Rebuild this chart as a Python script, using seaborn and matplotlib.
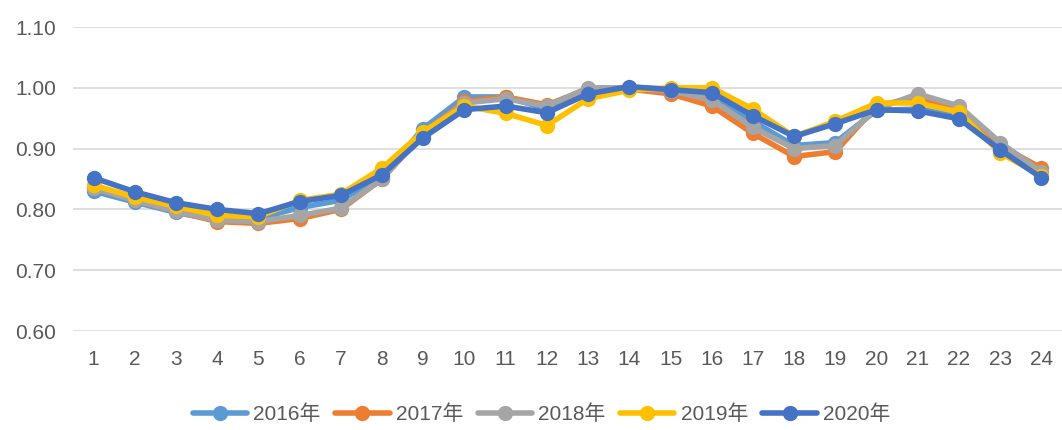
import pandas as pd
import matplotlib
matplotlib.use("Agg")
import matplotlib.pyplot as plt
import seaborn as sns

# hours of the day
hours = list(range(1, 25))

# load ratio per hour
y2016 = [0.830, 0.812, 0.795, 0.782, 0.785, 0.803, 0.815, 0.855, 0.933, 0.985, 0.985, 0.965,
         0.995, 1.000, 0.998, 0.985, 0.945, 0.905, 0.910, 0.963, 0.965, 0.955, 0.898, 0.858]
y2017 = [0.835, 0.815, 0.797, 0.780, 0.777, 0.785, 0.800, 0.850, 0.925, 0.978, 0.985, 0.972,
         0.998, 0.998, 0.990, 0.970, 0.925, 0.887, 0.895, 0.970, 0.985, 0.965, 0.905, 0.868]
y2018 = [0.835, 0.815, 0.797, 0.782, 0.780, 0.790, 0.802, 0.850, 0.925, 0.975, 0.982, 0.970,
         1.000, 1.000, 0.995, 0.980, 0.935, 0.900, 0.905, 0.965, 0.990, 0.970, 0.910, 0.862]
y2019 = [0.840, 0.820, 0.805, 0.790, 0.788, 0.815, 0.825, 0.868, 0.928, 0.970, 0.958, 0.938,
         0.982, 0.996, 1.000, 1.000, 0.965, 0.920, 0.945, 0.975, 0.975, 0.960, 0.893, 0.855]
y2020 = [0.852, 0.829, 0.811, 0.800, 0.793, 0.813, 0.823, 0.857, 0.918, 0.964, 0.970, 0.959,
         0.990, 1.002, 0.997, 0.992, 0.954, 0.920, 0.941, 0.964, 0.962, 0.949, 0.898, 0.852]

years = ["2016年", "2017年", "2018年", "2019年", "2020年"]
colors = ["#5B9BD5", "#ED7D31", "#A5A5A5", "#FFC000", "#4472C4"]
yticks = [0.60, 0.70, 0.80, 0.90, 1.00, 1.10]

# build a long table for seaborn
frames = []
for name, vals in zip(years, [y2016, y2017, y2018, y2019, y2020]):
    frames.append(pd.DataFrame({"hour": hours, "value": vals, "year": name}))
df = pd.concat(frames, ignore_index=True)

sns.set_style("white")
plt.rcParams["font.family"] = ["Liberation Sans", "Noto Sans CJK SC", "DejaVu Sans"]

fig = plt.figure(figsize=(10.62, 4.30), dpi=100)
ax = fig.add_axes([0.0687, 0.2302, 0.9313, 0.707])

sns.lineplot(data=df, x="hour", y="value", hue="year", palette=colors,
             marker="o", markersize=11, linewidth=4, markeredgewidth=0,
             ax=ax, legend=True)

ax.set_xlim(0.5, 24.5)
ax.set_ylim(0.60, 1.10)
ax.set_yticks(yticks)
ax.set_yticklabels([f"{t:.2f}" for t in yticks])
ax.set_xticks(hours)
ax.set_xticklabels([str(h) for h in hours])
ax.yaxis.grid(True, color="#D9D9D9", linewidth=1.2)
ax.set_axisbelow(True)
for s in ax.spines.values():
    s.set_visible(False)
ax.tick_params(axis="both", length=0, labelsize=15, colors="#595959")
ax.tick_params(axis="x", pad=14)
ax.tick_params(axis="y", pad=12)
ax.set_xlabel("")
ax.set_ylabel("")

handles, labels = ax.get_legend_handles_labels()
ax.legend_.remove()
fig.legend(handles, labels, loc="lower center", bbox_to_anchor=(0.51, -0.03),
           ncol=5, frameon=False, fontsize=15, handlelength=2.6,
           columnspacing=0.7, handletextpad=0.3, labelcolor="#595959")

fig.savefig("out.png", dpi=100)
